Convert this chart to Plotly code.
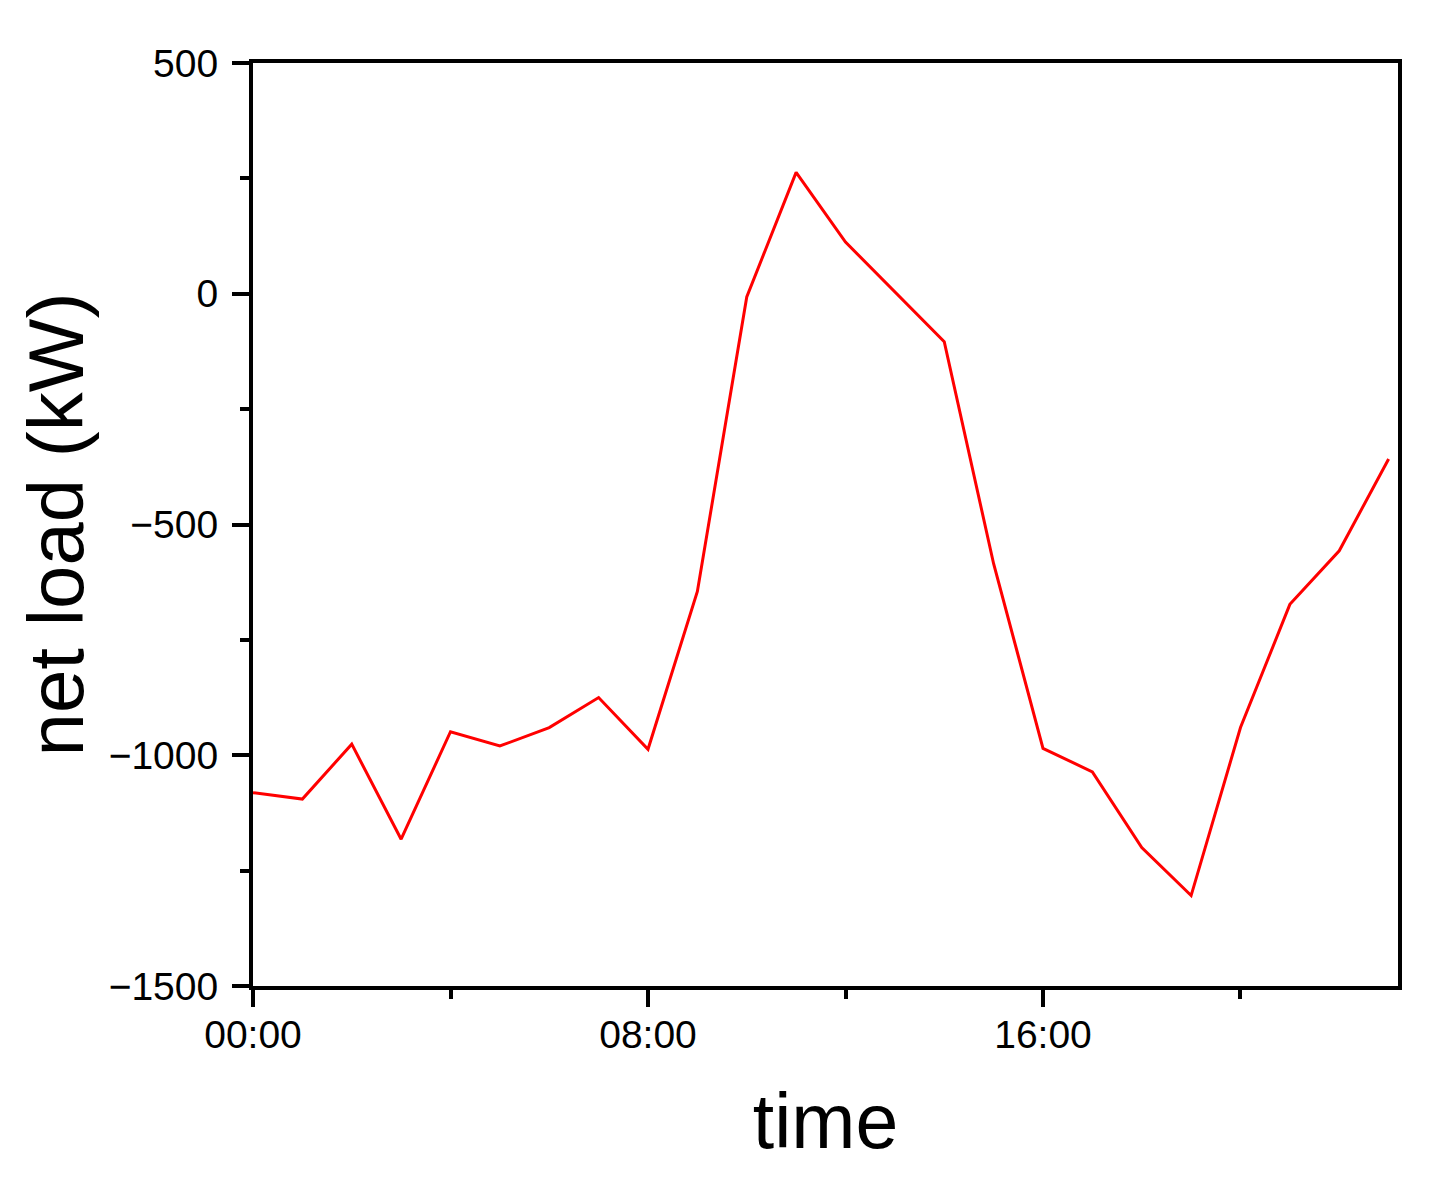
import plotly.graph_objects as go

hours = list(range(24))
net_load = [-1081, -1095, -976, -1182, -949, -980, -940, -875, -987, -645,
            -7, 263, 112, 3, -104, -585, -985, -1036, -1200, -1304,
            -940, -673, -557, -358]
x_tickvals = [0, 8, 16]
x_ticktext = ["00:00", "08:00", "16:00"]
y_tickvals = [500, 0, -500, -1000, -1500]

FONT = "Liberation Sans, Arial, Helvetica, sans-serif"

fig = go.Figure()
fig.add_trace(go.Scatter(x=hours, y=net_load, mode="lines",
                         line=dict(color="#ff0000", width=3),
                         showlegend=False))

axis_common = dict(
    showline=True, linecolor="black", linewidth=4, mirror=True,
    showgrid=False, zeroline=False,
    ticks="outside", ticklen=17, tickwidth=4, tickcolor="black",
    tickfont=dict(family=FONT, size=39, color="black"),
)

fig.update_xaxes(
    range=[0, 23.19], tickmode="array", tickvals=x_tickvals, ticktext=x_ticktext,
    minor=dict(ticks="outside", ticklen=9, tickwidth=4, tickcolor="black", dtick=4, tick0=0),
    title=dict(text="time", font=dict(family=FONT, size=77, color="black"), standoff=40),
    ticklabelstandoff=-6,
    **axis_common,
)
fig.update_yaxes(
    range=[-1500, 500], tickmode="array", tickvals=y_tickvals,
    minor=dict(ticks="outside", ticklen=9, tickwidth=4, tickcolor="black", dtick=250, tick0=0),
    title=dict(text="net load (kW)", font=dict(family=FONT, size=78, color="black"), standoff=0),
    ticklabelstandoff=6,
    **axis_common,
)

fig.update_layout(
    width=1448, height=1179,
    margin=dict(l=245, r=58, t=55, b=201, autoexpand=False),
    paper_bgcolor="white", plot_bgcolor="white",
    font=dict(family=FONT, color="black"),
)

fig.write_html("out.html")
